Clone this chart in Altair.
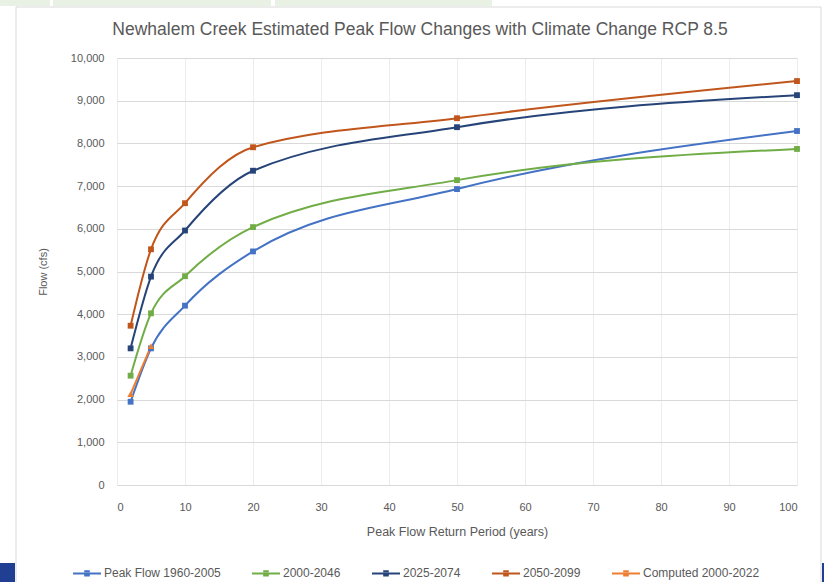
import altair as alt
import pandas as pd

# ---- data ----
return_period = [2, 5, 10, 20, 50, 100]
peak_1960_2005 = [1950, 3200, 4200, 5470, 6930, 8290]
s_2000_2046 = [2560, 4020, 4890, 6040, 7140, 7870]
s_2025_2074 = [3200, 4880, 5960, 7360, 8380, 9130]
s_2050_2099 = [3730, 5520, 6600, 7910, 8590, 9460]
computed_period = [2, 5]
computed_2000_2022 = [2130, 3250]

series_names = ["Peak Flow 1960-2005", "2000-2046", "2025-2074", "2050-2099", "Computed 2000-2022"]
series_colors = ["#4472C4", "#70AD47", "#264478", "#C0561B", "#ED7D31"]
series_shapes = ["square", "square", "square", "square", "triangle-up"]

rows = []
for name, vals in zip(series_names[:4], [peak_1960_2005, s_2000_2046, s_2025_2074, s_2050_2099]):
    for x, v in zip(return_period, vals):
        rows.append({"period": x, "flow": v, "series": name})
for x, v in zip(computed_period, computed_2000_2022):
    rows.append({"period": x, "flow": v, "series": series_names[4]})
df = pd.DataFrame(rows)

FONT = "Liberation Sans"
GREY = "#595959"

x_enc = alt.X("period:Q", title="Peak Flow Return Period (years)",
              scale=alt.Scale(domain=[0, 100], nice=False),
              axis=alt.Axis(values=list(range(0, 101, 10)), grid=True, gridColor="#EDEDED",
                            domain=False, ticks=False, labelPadding=16, titlePadding=13,
                            labelFontSize=11, titleFontSize=12.5, labelColor=GREY, titleColor=GREY,
                            labelFont=FONT, titleFont=FONT, titleFontWeight="normal"))
y_enc = alt.Y("flow:Q", title="Flow (cfs)",
              scale=alt.Scale(domain=[0, 10000], nice=False),
              axis=alt.Axis(values=list(range(0, 10001, 1000)), format=",d", grid=True,
                            gridColor="#D9D9D9", domain=False, ticks=False, labelPadding=13,
                            titlePadding=22, labelFontSize=11, titleFontSize=11,
                            labelColor=GREY, titleColor=GREY, labelFont=FONT, titleFont=FONT,
                            titleFontWeight="normal"))

color_scale = alt.Scale(domain=series_names, range=series_colors)

legend_path = "M-1,0H1M-0.2,-0.15H0.2M-0.2,0H0.2M-0.2,0.15H0.2"

lines = alt.Chart(df).mark_line(interpolate="monotone", strokeWidth=2).encode(
    x=x_enc, y=y_enc,
    color=alt.Color("series:N", scale=color_scale, sort=series_names,
                    legend=alt.Legend(orient="none", legendX=-45, legendY=500, direction="horizontal",
                                      title=None, symbolType=legend_path, symbolSize=784,
                                      symbolStrokeWidth=2, labelFont=FONT, labelFontSize=12,
                                      labelColor=GREY, columnPadding=27, labelOffset=2)),
)

point_layers = []
for name, col, shp in zip(series_names, series_colors, series_shapes):
    point_layers.append(
        alt.Chart(df).transform_filter(alt.datum.series == name).mark_point(
            filled=True, size=34 if shp == "square" else 44, opacity=1, color=col, shape=shp
        ).encode(x=x_enc, y=y_enc)
    )

one = alt.Data(values=[{}])

frame = alt.Chart(one).mark_rect(fillOpacity=0, stroke="#D9D9D9", strokeWidth=1).encode(
    x=alt.value(-101), x2=alt.value(704), y=alt.value(-51), y2=alt.value(560))

corner_l = alt.Chart(one).mark_rect(fill="#203F92").encode(
    x=alt.value(-117), x2=alt.value(-102), y=alt.value(505), y2=alt.value(524))
corner_r = alt.Chart(one).mark_rect(fill="#203F92").encode(
    x=alt.value(705), x2=alt.value(707), y=alt.value(505), y2=alt.value(524))

strip_layers = []
for a, b in [(-117, -67), (-64, 154), (158, 375)]:
    strip_layers.append(alt.Chart(one).mark_rect(fill="#E9F1E5").encode(
        x=alt.value(a), x2=alt.value(b), y=alt.value(-58), y2=alt.value(-52)))

title = alt.Chart(one).mark_text(
    text="Newhalem Creek Estimated Peak Flow Changes with Climate Change RCP 8.5",
    font=FONT, fontSize=17.5, color=GREY, align="center", baseline="middle").encode(
    x=alt.value(303), y=alt.value(-28))

chart = alt.layer(frame, *strip_layers, lines, *point_layers, title, corner_l, corner_r).properties(
    width=680, height=427,
    padding={"left": 117, "top": 58, "right": 27, "bottom": 97},
    autosize=alt.AutoSizeParams(type="none"),
    background="white",
).configure_view(stroke=None)

chart.save("out.html", embed_options={"renderer": "svg", "actions": False})
